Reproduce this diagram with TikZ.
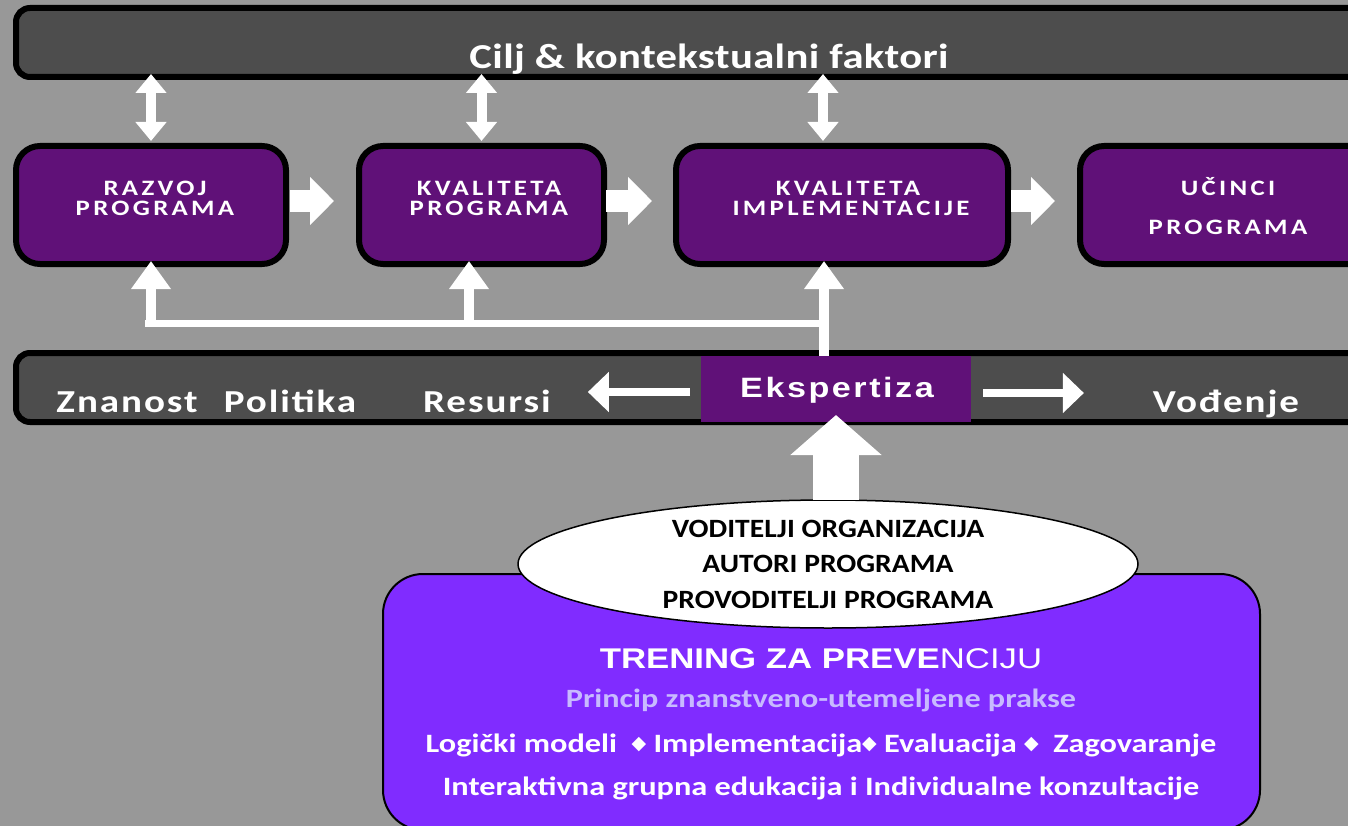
\documentclass[tikz,border=0pt]{standalone}
\usepackage{fontspec}
\setmainfont[FakeStretch=1.22]{Carlito}
\newfontfamily\arialf[FakeStretch=1.22]{Liberation Sans}
\newfontfamily\titlef[FakeStretch=1.22,LetterSpace=1]{Carlito}
\newfontfamily\wordf[FakeStretch=1.22,LetterSpace=6]{Carlito}
\newfontfamily\ellf[FakeStretch=1.12]{Carlito}
\newfontfamily\boxf[FakeStretch=1.22,LetterSpace=15]{Carlito}
\newfontfamily\ekspf[FakeStretch=1.22,LetterSpace=9]{Liberation Sans}
\newfontfamily\dejavu{DejaVu Sans}
\newcommand\dmd{{\dejavu\mdseries\fontsize{19}{19}\selectfont\raisebox{2.5pt}{◆}}}
\usetikzlibrary{arrows.meta,shapes.geometric}
\definecolor{bgg}{RGB}{152,152,152}
\definecolor{barg}{RGB}{77,77,77}
\definecolor{dpurp}{RGB}{96,17,120}
\definecolor{vpurp}{RGB}{128,44,255}
\definecolor{lav}{RGB}{200,186,255}
\begin{document}
\begin{tikzpicture}[x=1pt,y=-1pt,
  outer sep=0pt,
  bar/.style={draw=black,line width=6pt,fill=barg,rounded corners=14pt,inner sep=0pt,minimum height=69pt},
  pbox/.style={draw=black,line width=6pt,fill=dpurp,rounded corners=24pt,inner sep=0pt,minimum height=118pt},
  boxtxt/.style={text=white,font=\boxf\bfseries\fontsize{22}{22}\selectfont,inner sep=0pt,anchor=base},
  wordtxt/.style={text=white,font=\wordf\bfseries\fontsize{32}{32}\selectfont,inner sep=0pt,anchor=base},
  dbl/.style={draw=white,line width=10pt,{Triangle[width=30pt,length=19pt]}-{Triangle[width=30pt,length=19pt]}},
  upar/.style={draw=white,line width=10pt,-{Triangle[width=38pt,length=28pt]}},
  rar/.style={draw=white,line width=22pt,-{Triangle[width=47pt,length=24pt]}},
  thinar/.style={draw=white,line width=8.5pt,-{Triangle[width=39pt,length=21pt]}},
  lowtxt/.style={text=white,font=\bfseries\fontsize{26.5}{27}\selectfont,inner sep=0pt,anchor=base}
]
\useasboundingbox (0,0) rectangle (1348,826);
\fill[bgg] (0,0) rectangle (1348,826);
\clip (0,0) rectangle (1348,826);

% top bar
\node[bar,minimum width=1400pt] (ctx) at (716,42.5) {};
\node[text=white,font=\titlef\bfseries\fontsize{35}{35}\selectfont,inner sep=0pt,anchor=base] (ctxt) at (709,69) {Cilj \& kontekstualni faktori};

% purple boxes
\node[pbox,minimum width=270pt] (b1) at (151,205) {};
\node[pbox,minimum width=245pt] (b2) at (481.5,205) {};
\node[pbox,minimum width=332pt] (b3) at (842,205) {};
\node[pbox,minimum width=340pt] (b4) at (1250,205) {};

\node[boxtxt] (t1a) at (155,196) {RAZVOJ};
\node[boxtxt] (t1b) at (155,216) {PROGRAMA};
\node[boxtxt] (t2a) at (489,196) {KVALITETA};
\node[boxtxt] (t2b) at (489,216) {PROGRAMA};
\node[boxtxt] (t3a) at (848,196) {KVALITETA};
\node[boxtxt] (t3b) at (851,216) {IMPLEMENTACIJE};
\node[boxtxt] (t4a) at (1228,196) {UČINCI};
\node[boxtxt] (t4b) at (1228,235) {PROGRAMA};

% double arrows to top bar
\draw[dbl,shorten <=-3pt,shorten >=5pt] (ctx.south -| b1.north) -- (b1.north);
\draw[dbl,shorten <=-3pt,shorten >=5pt] (ctx.south -| b2.north) -- (b2.north);
\draw[dbl,shorten <=-3pt,shorten >=5pt] ([xshift=-19pt]ctx.south -| b3.north) -- ([xshift=-19pt]b3.north);

% arrows between boxes
\draw[rar,shorten <=4pt,shorten >=25pt] ([yshift=4pt]b1.east) -- ([yshift=4pt]b2.west);
\draw[rar,shorten <=2pt,shorten >=24pt] ([yshift=4pt]b2.east) -- ([yshift=4pt]b3.west);
\draw[rar,shorten <=3pt,shorten >=25pt] ([yshift=4pt]b3.east) -- ([yshift=4pt]b4.west);

% bottom bar
\node[bar,minimum width=1400pt] (res) at (716,387.5) {};
\node[fill=dpurp,minimum width=270pt,minimum height=66pt,inner sep=0pt] (eksp) at (836,389) {};
\node[text=white,font=\ekspf\bfseries\fontsize{28}{28}\selectfont,inner sep=0pt,anchor=base] (ekspt) at (837,397) {Ekspertiza};
\node[wordtxt] (znan) at (127,412) {Znanost};
\node[wordtxt] (pol) at (290,412) {Politika};
\node[wordtxt] (resu) at (487,412) {Resursi};
\node[wordtxt] (vod) at (1226,412) {Vođenje};

\draw[thinar,shorten <=11pt,shorten >=37pt] ([yshift=-3pt]eksp.west) -- ([yshift=-3pt]eksp.west -| resu.east);
\draw[thinar,shorten <=12pt,shorten >=69pt] ([yshift=-4pt]eksp.east) -- ([yshift=-4pt]eksp.east -| vod.west);

% feedback connectors
\coordinate (j1) at (151,323.5);
\coordinate (j2) at (469,323.5);
\coordinate (j3) at (824,323.5);
\draw[white,line width=7pt,line cap=rect] ([xshift=-2.5pt]j1) -- (j3);
\draw[upar,shorten >=-3pt] (j1) -- (j1 |- b1.south);
\draw[upar,shorten >=-3pt] (j2) -- (j2 |- b2.south);
\draw[upar,shorten <=-3pt,shorten >=-3pt] (j3 |- res.north) -- (j3 |- b3.south);

% training box
\node[draw=black,line width=2pt,fill=vpurp,rounded corners=40pt,minimum width=877pt,minimum height=256pt,inner sep=0pt] (train) at (821.5,702) {};
\node[ellipse,draw=black,line width=1.5pt,fill=white,minimum width=620pt,minimum height=128pt,inner sep=0pt,align=center,font=\ellf\bfseries\fontsize{26.4}{35.5}\selectfont] (ell) at (828,564) {VODITELJI ORGANIZACIJA\\AUTORI PROGRAMA\\PROVODITELJI PROGRAMA};
\draw[white,line width=46pt,-{Triangle[width=89pt,length=40pt]},shorten >=-7pt] (eksp.south |- ell.north) -- (eksp.south);

\node[text=white,font=\arialf\fontsize{28.5}{29}\selectfont,inner sep=0pt,anchor=base] (tr) at (821,668) {\bfseries TRENING ZA PREVE\mdseries NCIJU};
\node[text=lav,font=\bfseries\fontsize{26.4}{27}\selectfont,inner sep=0pt,anchor=base] (pr) at (821,707) {Princip znanstveno-utemeljene prakse};
\node[lowtxt] (lg) at (821,752) {Logički modeli\ \ \dmd{} Implementacija\dmd{} Evaluacija \dmd\ \ Zagovaranje};
\node[lowtxt] (ie) at (821,795) {Interaktivna grupna edukacija i Individualne konzultacije};
\end{tikzpicture}
\end{document}
